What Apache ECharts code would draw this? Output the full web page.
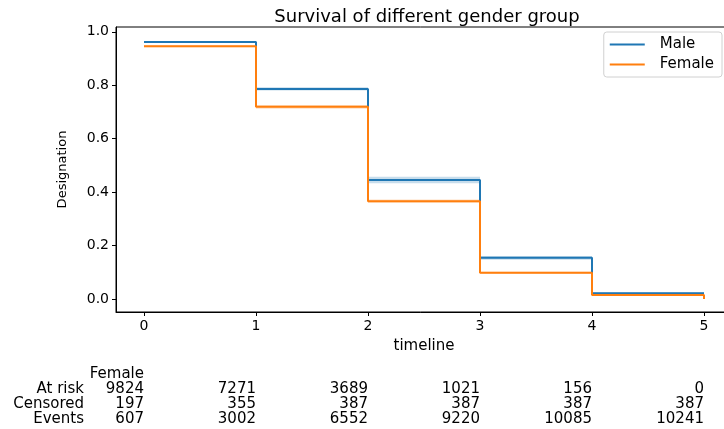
<!DOCTYPE html>
<html>
<head>
<meta charset="utf-8">
<script src="https://cdn.jsdelivr.net/npm/echarts@6/dist/echarts.min.js"></script>
<style>
  html, body { margin: 0; padding: 0; background: #fff; }
  #main { width: 724px; height: 429px; }
</style>
</head>
<body>
<div id="main"></div>
<script>
// survival estimates
const timeline = [0, 1, 2, 3, 4, 5];
const maleSurv = [0.962, 0.786, 0.445, 0.154, 0.021, 0.021];
const maleLow = [0.958, 0.780, 0.433, 0.147, 0.018];
const maleHigh = [0.966, 0.792, 0.457, 0.161, 0.024];
const femaleTimes = [0, 1, 2, 3, 4, 5, 5];
const femaleSurv = [0.946, 0.719, 0.366, 0.098, 0.015, 0.015, 0.0];
const femaleLow = [0.942, 0.712, 0.360, 0.094, 0.013];
const femaleHigh = [0.950, 0.726, 0.372, 0.102, 0.017];

// at-risk table (Female)
const tableRows = ['At risk', 'Censored', 'Events'];
const atRisk = [9824, 7271, 3689, 1021, 156, 0];
const censored = [197, 355, 387, 387, 387, 387];
const events = [607, 3002, 6552, 9220, 10085, 10241];

const yTicks = [0, 0.2, 0.4, 0.6, 0.8, 1.0];
const blue = '#1f77b4';
const orange = '#ff7f0e';
const font = 'DejaVu Sans';

function pairs(xs, ys) {
    return xs.map((x, i) => [x, ys[i]]);
}

// confidence band: one rect per interval [t_i, t_i+1]
function bandSeries(name, low, high, color) {
    let data = [];
    for (let i = 0; i < low.length; i++) {
        data.push([timeline[i], timeline[i + 1], low[i], high[i]]);
    }
    return {
        name: name,
        type: 'custom',
        silent: true,
        z: 1,
        encode: { x: [0, 1], y: [2, 3] },
        data: data,
        renderItem: function (params, api) {
            const p0 = api.coord([api.value(0), api.value(3)]);
            const p1 = api.coord([api.value(1), api.value(2)]);
            return {
                type: 'rect',
                shape: { x: p0[0], y: p0[1], width: p1[0] - p0[0], height: p1[1] - p0[1] },
                style: { fill: color, opacity: 0.25 }
            };
        }
    };
}

let mainchart = echarts.init(document.getElementById('main'));

let chart_config = {
    animation: false,
    title: {
        text: 'Survival of different gender group',
        left: 422,
        textAlign: 'center',
        top: 3,
        textStyle: { fontFamily: font, fontSize: 18, fontWeight: 'normal', color: '#000' }
    },
    legend: {
        data: ['Male', 'Female'],
        orient: 'vertical',
        right: 2,
        top: 32,
        padding: [5, 8, 5, 6],
        itemGap: 5,
        itemWidth: 35,
        itemHeight: 2,
        icon: 'rect',
        backgroundColor: '#fff',
        borderColor: '#d0d0d0',
        borderWidth: 1,
        borderRadius: 3,
        textStyle: { fontFamily: font, fontSize: 15, color: '#000', padding: [0, 0, 0, 10] }
    },
    grid: {
        left: 116,
        top: 27,
        width: 616,
        bottom: 117,
        outerBoundsMode: 'none',
        containLabel: false,
        show: true,
        borderColor: '#000',
        borderWidth: 1
    },
    xAxis: {
        type: 'value',
        min: -0.25,
        max: 5.25,
        name: 'timeline',
        nameLocation: 'middle',
        nameGap: 27,
        nameTextStyle: { fontFamily: font, fontSize: 15, color: '#000' },
        splitLine: { show: false },
        axisLine: { show: true, onZero: false, lineStyle: { color: '#000' } },
        axisTick: { show: true, length: 4, customValues: timeline, lineStyle: { color: '#000' } },
        axisLabel: {
            customValues: timeline,
            margin: 7,
            fontFamily: font,
            fontSize: 14,
            color: '#000'
        }
    },
    yAxis: {
        type: 'value',
        min: -0.049,
        max: 1.018,
        name: 'Designation',
        nameLocation: 'middle',
        nameGap: 47,
        nameTextStyle: { fontFamily: font, fontSize: 13, color: '#000' },
        splitLine: { show: false },
        axisLine: { show: true, onZero: false, lineStyle: { color: '#000' } },
        axisTick: { show: true, length: 4, customValues: yTicks, lineStyle: { color: '#000' } },
        axisLabel: {
            customValues: yTicks,
            margin: 7,
            fontFamily: font,
            fontSize: 14,
            color: '#000',
            formatter: v => v.toFixed(1)
        }
    },
    series: [
        bandSeries('Male CI', maleLow, maleHigh, blue),
        bandSeries('Female CI', femaleLow, femaleHigh, orange),
        {
            name: 'Male',
            type: 'line',
            step: 'end',
            symbol: 'none',
            color: blue,
            lineStyle: { color: blue, width: 2 },
            data: pairs(timeline, maleSurv),
            z: 3
        },
        {
            name: 'Female',
            type: 'line',
            step: 'end',
            symbol: 'none',
            color: orange,
            lineStyle: { color: orange, width: 2 },
            data: pairs(femaleTimes, femaleSurv),
            z: 4
        }
    ]
};
mainchart.setOption(chart_config);

// table under the axis, columns placed on the timeline ticks
let graphics = [];
const rowY = [389, 404, 419];
const tableStyle = { fontFamily: font, fontSize: 15, fill: '#000' };
const firstX = mainchart.convertToPixel({ xAxisIndex: 0 }, timeline[0]);
graphics.push({
    type: 'text', x: firstX, y: 374,
    style: Object.assign({ text: 'Female', align: 'right', verticalAlign: 'middle' }, tableStyle)
});
[atRisk, censored, events].forEach(function (row, r) {
    graphics.push({
        type: 'text', x: 84, y: rowY[r],
        style: Object.assign({ text: tableRows[r], align: 'right', verticalAlign: 'middle' }, tableStyle)
    });
    for (let t = 0; t < timeline.length; t++) {
        const px = mainchart.convertToPixel({ xAxisIndex: 0 }, timeline[t]);
        graphics.push({
            type: 'text', x: px, y: rowY[r],
            style: Object.assign({ text: String(row[t]), align: 'right', verticalAlign: 'middle' }, tableStyle)
        });
    }
});
mainchart.setOption({ graphic: graphics });
</script>
</body>
</html>
